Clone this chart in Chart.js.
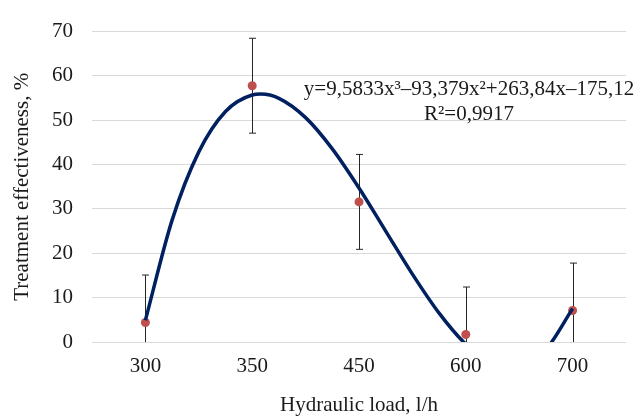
<!DOCTYPE html>
<html>
<head>
<meta charset="utf-8">
<script src="https://cdn.jsdelivr.net/npm/chart.js@4/dist/chart.umd.min.js"></script>
<style>
    html, body { margin: 0; padding: 0; background: #fff; }
    canvas { display: block; }
</style>
</head>
<body>
<canvas id="myChart" width="638" height="418"></canvas>
<script>
// hydraulic load categories and measured effectiveness
const loads = ["300", "350", "450", "600", "700"];
const effectiveness = [4.4, 57.8, 31.6, 1.7, 7.1];
const errors = [10.7, 10.7, 10.7, 10.7, 10.7];

// polynomial trendline (x = category number 1..5)
const trendX = [1, 1.25, 1.5, 1.75, 2, 2.08, 2.25, 2.5, 2.75, 3, 3.25, 3.5, 3.75, 4, 4.25, 4.5, 4.75, 5];
const trendY = [4.92, 27.49, 42.88, 51.99, 55.71, 55.9, 54.95, 50.6, 43.56, 34.74, 25.02, 15.31, 6.51, -0.49, -4.79, -5.49, -1.68, 7.52];

const yTicks = [0, 10, 20, 30, 40, 50, 60, 70];
const equationLines = ["y=9,5833x³–93,379x²+263,84x–175,12", "R²=0,9917"];

const serif = "'Liberation Serif', 'Times New Roman', serif";
const textColor = "#1a1a1a";

// error bars under the markers
const errorBars = {
    id: "errorBars",
    beforeDatasetsDraw(chart) {
        const ctx = chart.ctx;
        const area = chart.chartArea;
        const y = chart.scales.y;
        const meta = chart.getDatasetMeta(1);
        ctx.save();
        ctx.beginPath();
        ctx.rect(area.left, area.top, area.right - area.left, area.bottom - area.top);
        ctx.clip();
        ctx.strokeStyle = "#262626";
        ctx.lineWidth = 1;
        for (let i = 0; i < effectiveness.length; i++) {
            const x = Math.round(meta.data[i].x) + 0.5;
            const top = y.getPixelForValue(effectiveness[i] + errors[i]);
            const bottom = y.getPixelForValue(effectiveness[i] - errors[i]);
            ctx.beginPath();
            ctx.moveTo(x, top);
            ctx.lineTo(x, bottom);
            ctx.moveTo(x - 3.5, top);
            ctx.lineTo(x + 3.5, top);
            ctx.moveTo(x - 3.5, bottom);
            ctx.lineTo(x + 3.5, bottom);
            ctx.stroke();
        }
        ctx.restore();
    }
};

// trendline equation label
const equationLabel = {
    id: "equationLabel",
    afterDatasetsDraw(chart) {
        const ctx = chart.ctx;
        const x = chart.scales.x2.getPixelForValue(4.03);
        const y = chart.scales.y.getPixelForValue(55.8);
        ctx.save();
        ctx.font = "21px " + serif;
        ctx.fillStyle = textColor;
        ctx.textAlign = "center";
        ctx.textBaseline = "alphabetic";
        ctx.fillText(equationLines[0], x, y);
        ctx.fillText(equationLines[1], x, y + 25);
        ctx.restore();
    }
};

const trend = [];
for (let i = 0; i < trendX.length; i++) {
    trend.push({ x: trendX[i], y: trendY[i] });
}

new Chart(document.getElementById("myChart"), {
    type: "line",
    data: {
        labels: loads,
        datasets: [{
            label: "Trendline",
            data: trend,
            xAxisID: "x2",
            borderColor: "#002060",
            borderWidth: 3.5,
            pointRadius: 0,
            cubicInterpolationMode: "monotone",
            clip: 0,
            order: 0
        },
        {
            label: "Treatment effectiveness",
            data: effectiveness,
            xAxisID: "x",
            showLine: false,
            pointRadius: 4.5,
            pointBackgroundColor: "#C0504D",
            pointBorderColor: "#C0504D",
            pointBorderWidth: 0,
            order: 1
        }]
    },
    options: {
        responsive: false,
        animation: false,
        layout: {
            padding: { top: 23, right: 12, left: 0, bottom: 0 }
        },
        plugins: {
            legend: { display: false },
            tooltip: { enabled: false }
        },
        scales: {
            x: {
                type: "category",
                offset: true,
                grid: { display: false, drawTicks: false },
                border: { display: false },
                ticks: {
                    color: textColor,
                    padding: 12,
                    font: { family: serif, size: 21 }
                },
                title: {
                    display: true,
                    text: "Hydraulic load, l/h",
                    color: textColor,
                    padding: { top: 0, bottom: 0 },
                    font: { family: serif, size: 21 }
                },
                afterFit(scale) { scale.height = 76; }
            },
            x2: {
                type: "linear",
                display: false,
                min: 0.5,
                max: 5.5
            },
            y: {
                min: 0,
                max: 70,
                grid: { color: "#D9D9D9", lineWidth: 1, drawTicks: false },
                border: { display: false },
                afterBuildTicks(scale) {
                    scale.ticks = yTicks.map(v => ({ value: v }));
                },
                ticks: {
                    color: textColor,
                    padding: 19,
                    font: { family: serif, size: 21 }
                },
                title: {
                    display: true,
                    text: "Treatment effectiveness, %",
                    color: textColor,
                    padding: { top: 10, bottom: 0 },
                    font: { family: serif, size: 21 }
                },
                afterFit(scale) { scale.width = 92; }
            }
        }
    },
    plugins: [errorBars, equationLabel]
});
</script>
</body>
</html>
